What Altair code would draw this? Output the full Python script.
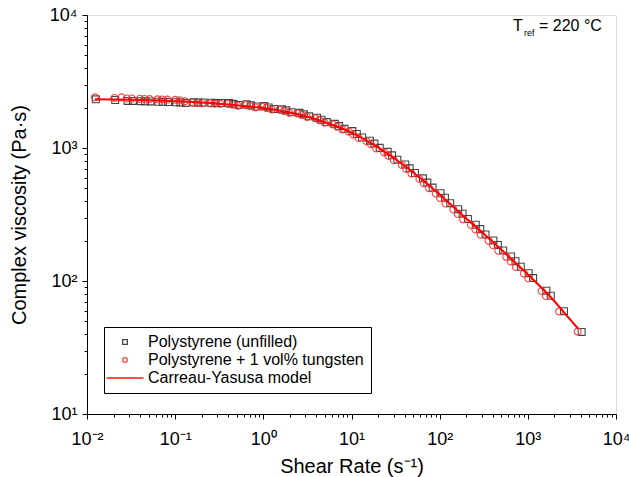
import altair as alt
import pandas as pd

# ---- data (log10 values) ----
sq_log_rate = [-1.90, -1.68, -1.54, -1.48, -1.39, -1.34, -1.28, -1.19, -1.14, -1.08,
               -0.99, -0.94, -0.88, -0.79, -0.74, -0.68, -0.59, -0.54, -0.48, -0.39, -0.34, -0.28, -0.19, -0.14, -0.08,
               0.01, 0.06, 0.12, 0.21, 0.26, 0.32, 0.41, 0.46, 0.52, 0.61, 0.66, 0.72, 0.81, 0.86, 0.92,
               1.01, 1.06, 1.12, 1.21, 1.26, 1.32, 1.41, 1.46, 1.52, 1.61, 1.66, 1.72, 1.81, 1.86, 1.92,
               2.01, 2.06, 2.12, 2.21, 2.26, 2.32, 2.41, 2.46, 2.52, 2.61, 2.66, 2.72, 2.81, 2.86, 2.92,
               3.01, 3.06, 3.21, 3.26, 3.41, 3.61]
sq_log_visc = [3.366, 3.361, 3.354, 3.354, 3.352, 3.351, 3.350, 3.348, 3.347, 3.346,
               3.344, 3.342, 3.339, 3.344, 3.342, 3.342, 3.340, 3.339, 3.338, 3.338, 3.332, 3.324, 3.329, 3.321, 3.312,
               3.315, 3.305, 3.294, 3.292, 3.283, 3.269, 3.264, 3.253, 3.238, 3.228, 3.213, 3.195, 3.182, 3.165, 3.144,
               3.127, 3.105, 3.079, 3.055, 3.033, 3.001, 2.971, 2.945, 2.912, 2.876, 2.847, 2.812, 2.772, 2.740, 2.702,
               2.660, 2.626, 2.585, 2.540, 2.506, 2.466, 2.423, 2.390, 2.350, 2.305, 2.271, 2.230, 2.184, 2.149, 2.107,
               2.059, 2.022, 1.927, 1.889, 1.773, 1.617]

ci_log_rate = [-1.91, -1.69, -1.61, -1.55, -1.49, -1.40, -1.35, -1.29, -1.20, -1.15, -1.09,
               -1.00, -0.95, -0.89, -0.80, -0.75, -0.69, -0.60, -0.55, -0.49, -0.40, -0.35, -0.29, -0.20, -0.15, -0.09,
               -0.015, 0.035, 0.095, 0.185, 0.235, 0.295, 0.385, 0.435, 0.495, 0.585, 0.635, 0.695, 0.785, 0.835, 0.895,
               0.97, 1.02, 1.08, 1.17, 1.22, 1.28, 1.37, 1.42, 1.48, 1.57, 1.62, 1.68, 1.77, 1.82, 1.88,
               1.955, 2.005, 2.065, 2.155, 2.205, 2.265, 2.355, 2.405, 2.465, 2.555, 2.605, 2.665, 2.755, 2.805, 2.865,
               2.955, 3.005, 3.155, 3.205, 3.355, 3.565]
ci_log_visc = [3.381, 3.376, 3.381, 3.372, 3.372, 3.370, 3.369, 3.368, 3.366, 3.365, 3.364,
               3.362, 3.358, 3.352, 3.340, 3.338, 3.337, 3.335, 3.333, 3.332, 3.331, 3.326, 3.318, 3.322, 3.314, 3.305,
               3.311, 3.301, 3.290, 3.288, 3.279, 3.265, 3.260, 3.249, 3.234, 3.224, 3.209, 3.191, 3.178, 3.161, 3.140,
               3.123, 3.101, 3.075, 3.051, 3.029, 2.997, 2.967, 2.941, 2.908, 2.872, 2.843, 2.808, 2.768, 2.736, 2.698,
               2.658, 2.624, 2.583, 2.538, 2.504, 2.464, 2.421, 2.388, 2.348, 2.303, 2.269, 2.228, 2.182, 2.147, 2.105,
               2.057, 2.020, 1.925, 1.887, 1.771, 1.620]

model_log_rate = [-1.91, -1.5, -1.0, -0.5, 0.0, 0.25, 0.5, 0.75, 1.0, 1.25, 1.5, 1.75,
                  2.0, 2.25, 2.5, 2.75, 3.0, 3.25, 3.5, 3.57]
model_log_visc = [3.366, 3.362, 3.352, 3.333, 3.300, 3.272, 3.235, 3.182, 3.115, 3.025, 2.915, 2.790,
                  2.650, 2.500, 2.355, 2.205, 2.050, 1.885, 1.695, 1.642]

series_names = ["Polystyrene (unfilled)", "Polystyrene + 1 vol% tungsten", "Carreau-Yasusa model"]

x_major = [0.01, 0.1, 1, 10, 100, 1000, 10000]
x_minor = [m * 10.0 ** e for e in range(-2, 4) for m in range(2, 10)]
y_major = [10, 100, 1000, 10000]
y_minor = [m * 10.0 ** e for e in range(1, 4) for m in range(2, 10)]

pts = pd.DataFrame({
    "rate": [10 ** v for v in sq_log_rate] + [10 ** v for v in ci_log_rate],
    "visc": [10 ** v for v in sq_log_visc] + [10 ** v for v in ci_log_visc],
    "series": [series_names[0]] * len(sq_log_rate) + [series_names[1]] * len(ci_log_rate),
})
model = pd.DataFrame({
    "rate": [10 ** v for v in model_log_rate],
    "visc": [10 ** v for v in model_log_visc],
})

FONT = "Liberation Sans"
W, H = 529, 399

xscale = alt.Scale(type="log", domain=[0.01, 10000], nice=False)
yscale = alt.Scale(type="log", domain=[10, 10000], nice=False)

xlab = ("datum.value < 0.05 ? '10⁻²' : datum.value < 0.5 ? '10⁻¹' : datum.value < 5 ? '10⁰' : "
        "datum.value < 50 ? '10¹' : datum.value < 500 ? '10²' : datum.value < 5000 ? '10³' : '10⁴'")
ylab = ("datum.value < 50 ? '10¹' : datum.value < 500 ? '10²' : datum.value < 5000 ? '10³' : '10⁴'")

common_axis = dict(grid=False, domainColor="black", tickColor="black", labelColor="black",
                   titleColor="black", labelFont=FONT, titleFont=FONT, labelFlush=False,
                   labelOverlap=False, labelBound=False)

x_axis = alt.Axis(values=x_major, labelExpr=xlab, tickSize=5, labelFontSize=18, labelPadding=11,
                  title="Shear Rate (s⁻¹)", titleFontSize=20, titleFontWeight="normal", titlePadding=8,
                  orient="bottom", **common_axis)
y_axis = alt.Axis(values=y_major, labelExpr=ylab, tickSize=5, labelFontSize=18, labelPadding=5,
                  title="Complex viscosity (Pa·s)", titleFontSize=20, titleFontWeight="normal",
                  titlePadding=20, orient="left", **common_axis)

minor = alt.Chart(model).mark_line(opacity=0).encode(
    x=alt.X("rate:Q", scale=xscale,
            axis=alt.Axis(values=x_minor, labels=False, tickSize=3, domain=False, grid=False,
                          title=None, orient="bottom", tickColor="black")),
    y=alt.Y("visc:Q", scale=yscale,
            axis=alt.Axis(values=y_minor, labels=False, tickSize=3, domain=False, grid=False,
                          title=None, orient="left", tickColor="black")),
)

legend_kw = dict(orient="none", legendX=17, legendY=312, title=None, strokeColor="black",
                 fillColor="white", padding=7, symbolSize=22, symbolStrokeWidth=1.3,
                 symbolOffset=6, labelOffset=15, labelFontSize=16, labelFont=FONT,
                 labelColor="black", labelLimit=400, rowPadding=2, cornerRadius=0)

points = alt.Chart(pts).mark_point(filled=False, size=48, strokeWidth=1.1, opacity=0.9).encode(
    x=alt.X("rate:Q", scale=xscale, axis=x_axis),
    y=alt.Y("visc:Q", scale=yscale, axis=y_axis),
    color=alt.Color("series:N",
                    scale=alt.Scale(domain=series_names, range=["#333333", "#ff3030", "#ff0000"]),
                    legend=alt.Legend(**legend_kw)),
    shape=alt.Shape("series:N",
                    scale=alt.Scale(domain=series_names, range=["square", "circle", "M-7.9,0H7.9"]),
                    legend=alt.Legend(**legend_kw)),
)

line = alt.Chart(model).mark_line(color="#ff0000", strokeWidth=2, interpolate="monotone").encode(
    x=alt.X("rate:Q", scale=xscale, axis=None),
    y=alt.Y("visc:Q", scale=yscale, axis=None),
)

ann = pd.DataFrame({"t": ["T"], "s": ["ref"], "r": ["= 220 °C"]})
t1 = alt.Chart(ann).mark_text(font=FONT, fontSize=16, align="left", baseline="alphabetic", color="black").encode(
    text="t:N", x=alt.value(426), y=alt.value(16))
t2 = alt.Chart(ann).mark_text(font=FONT, fontSize=9, align="left", baseline="alphabetic", color="black").encode(
    text="s:N", x=alt.value(437), y=alt.value(21))
t3 = alt.Chart(ann).mark_text(font=FONT, fontSize=16, align="left", baseline="alphabetic", color="black").encode(
    text="r:N", x=alt.value(452), y=alt.value(16))

chart = alt.layer(minor, points, line, t1, t2, t3).resolve_axis(
    x="independent", y="independent"
).properties(
    width=W, height=H,
    autosize=alt.AutoSizeParams(type="none"),
    padding={"left": 87, "top": 15, "right": 13, "bottom": 63},
).configure_view(stroke="black", strokeWidth=1).configure(background="white")

chart.save("out.html", embed_options={"renderer": "svg", "actions": False})
